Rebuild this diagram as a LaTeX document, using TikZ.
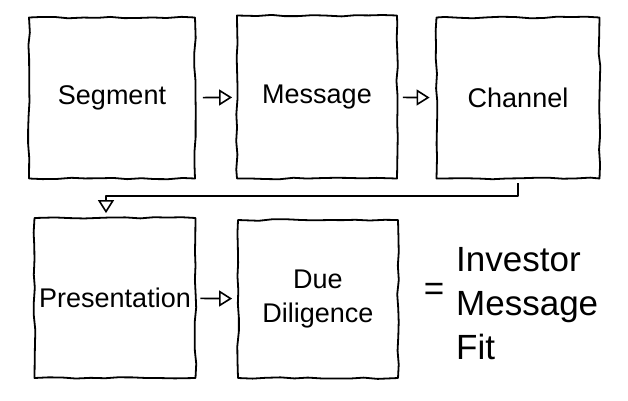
\documentclass[tikz,border=0pt]{standalone}
\usepackage{fontspec}
\setmainfont{Liberation Sans}
\usetikzlibrary{arrows.meta,decorations.pathmorphing}
\begin{document}
\begin{tikzpicture}[x=1pt,y=-1pt,
  sketch/.style={line width=1.8pt,line join=round,line cap=round,
    decorate,decoration={random steps,segment length=14pt,amplitude=0.9pt}},
  stage/.style={draw,sketch,rectangle,inner sep=0pt,
    font=\fontsize{27}{34}\selectfont,align=center},
  arr/.style={line width=1.6pt,line join=round,
    -{Triangle[open,length=13pt,width=16pt,line width=1.6pt]}},
  label/.style={inner sep=0pt,align=left,font=\fontsize{35}{44}\selectfont}]
\useasboundingbox (0,0) rectangle (628,400);
\node[stage,minimum width=166pt,minimum height=161pt] (seg) at (112,98) {Segment};
\node[stage,minimum width=160pt,minimum height=163pt] (msg) at (317,97) {Message};
\node[stage,minimum width=163pt,minimum height=161pt] (chan) at (518,98) {Channel};
\node[stage,minimum width=161pt,minimum height=160pt] (pres) at (115,298) {Presentation};
\node[stage,minimum width=160pt,minimum height=158pt] (dd) at (318,299) {Due\\Diligence};
\draw[arr,shorten <=7pt,shorten >=4pt] (seg) -- (msg);
\draw[arr,shorten <=5pt,shorten >=6pt] (msg) -- (chan);
\draw[arr,shorten <=4pt,shorten >=5pt] (pres) -- (dd);
\coordinate (turn) at (518,196);
\draw[arr,shorten <=4pt,shorten >=4pt] (chan.south) -- (turn) -| ([xshift=-9pt]pres.north);
\node[inner sep=0pt,font=\fontsize{35}{44}\selectfont] (eq) at (434,292) {=};
\node[label,anchor=west] (fit) at (456,304) {Investor\\Message\\Fit};
\end{tikzpicture}
\end{document}
